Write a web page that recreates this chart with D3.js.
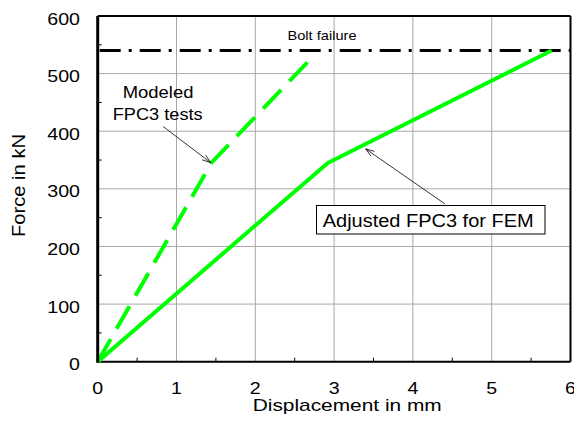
<!DOCTYPE html>
<html><head><meta charset="utf-8">
<script src="https://cdn.jsdelivr.net/npm/d3@7"></script>
<style>html,body{margin:0;padding:0;background:#fff}svg{display:block}text{font-family:"Liberation Sans",Arial,sans-serif;fill:#000}</style>
</head><body>
<div id="chart"></div>
<script>
// ---- data ----
const xTicks = [0, 1, 2, 3, 4, 5, 6];
const yTicks = [0, 100, 200, 300, 400, 500, 600];
const xMinor = [0.5, 1.5, 2.5, 3.5, 4.5, 5.5];
const yMinor = [50, 150, 250, 350, 450, 550];
const adjustedDisp = [0, 2.92, 5.76];
const adjustedForce = [0, 345, 540];
const modeledDisp = [0, 1.447, 2.70];
const modeledForce = [0, 346, 525];
const boltFailureForce = 540;
const xTitle = "Displacement in mm";
const yTitle = "Force in kN";
const boltLabel = "Bolt failure";
const modeledLabel = ["Modeled", "FPC3 tests"];
const adjustedLabel = "Adjusted FPC3 for FEM";

const W = 574, H = 425;
const m = {left: 97.7, top: 16, right: 574 - 570.5, bottom: 425 - 361.7};
const iw = W - m.left - m.right, ih = H - m.top - m.bottom;

const svg = d3.select("#chart").append("svg").attr("width", W).attr("height", H);
const g = svg.append("g").attr("transform", `translate(${m.left},${m.top})`);
const x = d3.scaleLinear().domain([0, 6]).range([0, iw]);
const y = d3.scaleLinear().domain([0, 600]).range([ih, 0]);

function fit(sel, w) { sel.attr("textLength", w).attr("lengthAdjust", "spacingAndGlyphs"); return sel; }

// grid
g.append("g").selectAll("line").data(xTicks.slice(1, -1)).join("line")
  .attr("x1", d => x(d)).attr("x2", d => x(d)).attr("y1", 0).attr("y2", ih)
  .attr("stroke", "#a8a8a8").attr("stroke-width", 1);
g.append("g").selectAll("line").data(yTicks.slice(1, -1)).join("line")
  .attr("y1", d => y(d)).attr("y2", d => y(d)).attr("x1", 0).attr("x2", iw)
  .attr("stroke", "#a8a8a8").attr("stroke-width", 1);

// minor ticks
g.append("g").selectAll("line").data(xMinor).join("line")
  .attr("x1", d => x(d)).attr("x2", d => x(d)).attr("y1", ih).attr("y2", ih - 4)
  .attr("stroke", "#000").attr("stroke-width", 1);
g.append("g").selectAll("line").data(yMinor).join("line")
  .attr("y1", d => y(d)).attr("y2", d => y(d)).attr("x1", 0).attr("x2", 4)
  .attr("stroke", "#000").attr("stroke-width", 1);

// frame
g.append("line").attr("x1", 0).attr("x2", iw).attr("y1", 0).attr("y2", 0).attr("stroke", "#000").attr("stroke-width", 2);
g.append("line").attr("x1", iw).attr("x2", iw).attr("y1", 0).attr("y2", ih).attr("stroke", "#000").attr("stroke-width", 2);
g.append("line").attr("x1", 0).attr("x2", iw).attr("y1", ih).attr("y2", ih).attr("stroke", "#000").attr("stroke-width", 2);

// bolt failure line
g.append("line").attr("x1", x(0)).attr("x2", x(6)).attr("y1", y(boltFailureForce)).attr("y2", y(boltFailureForce))
  .attr("stroke", "#000").attr("stroke-width", 3).attr("stroke-dasharray", "21,8,3,8").attr("stroke-dashoffset", -2);

// series
const line = d3.line().x(d => x(d[0])).y(d => y(d[1]));
g.append("path").datum(adjustedDisp.map((d, i) => [d, adjustedForce[i]]))
  .attr("d", line).attr("fill", "none").attr("stroke", "#00ff00").attr("stroke-width", 4).attr("stroke-linejoin", "round");
g.append("path").datum(modeledDisp.map((d, i) => [d, modeledForce[i]]))
  .attr("d", line).attr("fill", "none").attr("stroke", "#00ff00").attr("stroke-width", 4)
  .attr("stroke-dasharray", "26,12");

// left axis (thick)
g.append("line").attr("x1", 0).attr("x2", 0).attr("y1", 0).attr("y2", ih + 1).attr("stroke", "#000").attr("stroke-width", 3);

// tick labels
g.append("g").selectAll("text").data(yTicks).join("text")
  .attr("x", -17.7).attr("y", d => y(d) + 8.5).attr("text-anchor", "end")
  .attr("font-size", 16.5).text(d => d)
  .each(function(d) { fit(d3.select(this), String(d).length * 10.9); });
g.append("g").selectAll("text").data(xTicks).join("text")
  .attr("x", d => x(d)).attr("y", ih + 32.3).attr("text-anchor", "middle")
  .attr("font-size", 16.5).text(d => d)
  .each(function(d) { fit(d3.select(this), String(d).length * 10.9); });

// axis titles
fit(svg.append("text").attr("x", 252.7).attr("y", 411.3).attr("font-size", 17).text(xTitle), 189);
fit(svg.append("text").attr("transform", "translate(24.5,237) rotate(-90)").attr("font-size", 18.5).text(yTitle), 103);

// bolt failure label
fit(svg.append("text").attr("x", 287.5).attr("y", 40).attr("font-size", 13).text(boltLabel), 69);

// modeled label
fit(svg.append("text").attr("x", 122.7).attr("y", 98.3).attr("font-size", 17).text(modeledLabel[0]), 70.7);
fit(svg.append("text").attr("x", 112.7).attr("y", 120).attr("font-size", 17).text(modeledLabel[1]), 90);

// arrows
function arrow(x1, y1, x2, y2) {
  g.append("line").attr("x1", x(x1)).attr("y1", y(y1)).attr("x2", x(x2)).attr("y2", y(y2))
    .attr("stroke", "#000").attr("stroke-width", 0.8);
  const ang = Math.atan2(y(y1) - y(y2), x(x1) - x(x2));
  const L = 9, a = 0.33;
  const hx = x(x2), hy = y(y2);
  g.append("path")
    .attr("d", `M${hx + L * Math.cos(ang - a)},${hy + L * Math.sin(ang - a)}L${hx},${hy}L${hx + L * Math.cos(ang + a)},${hy + L * Math.sin(ang + a)}`)
    .attr("fill", "none").attr("stroke", "#000").attr("stroke-width", 0.8);
}
arrow(0.832, 408, 1.434, 345.5);
arrow(4.407, 273.8, 3.401, 369.3);

// adjusted label box
svg.append("rect").attr("x", 316.5).attr("y", 205.5).attr("width", 228.5).attr("height", 28.5)
  .attr("fill", "#fff").attr("stroke", "#000").attr("stroke-width", 1);
fit(svg.append("text").attr("x", 322.7).attr("y", 226.7).attr("font-size", 18).text(adjustedLabel), 211);
</script>
</body></html>
